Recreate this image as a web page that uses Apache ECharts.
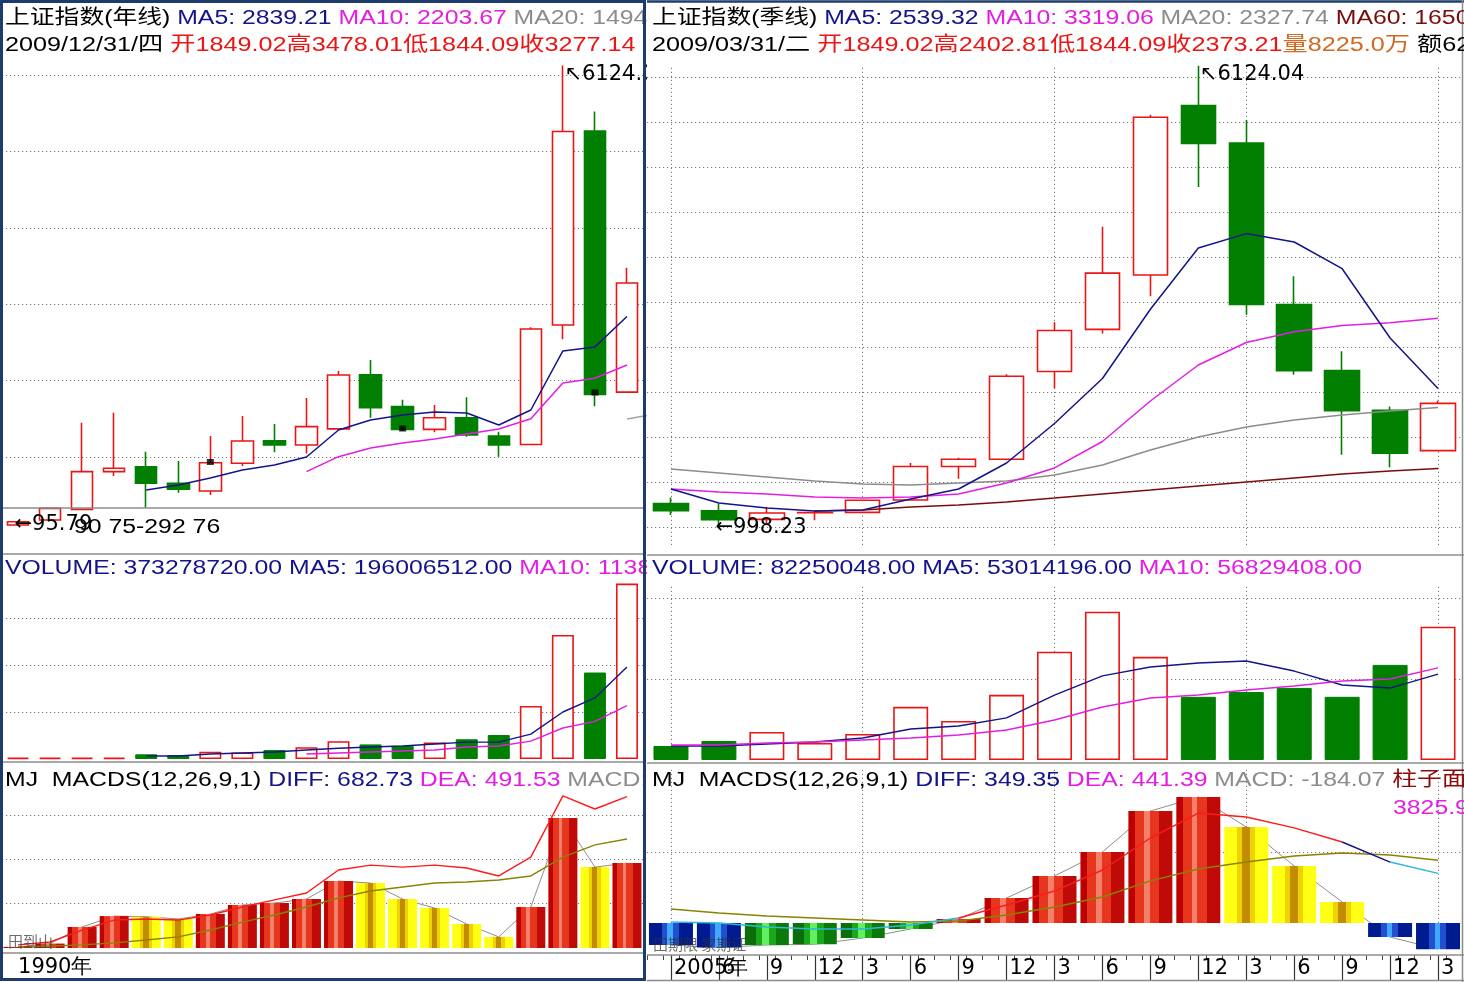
<!DOCTYPE html>
<html>
<head>
<meta charset="utf-8">
<script src="https://cdn.jsdelivr.net/npm/echarts@6.0.0/dist/echarts.min.js"></script>
<style>
html,body{margin:0;padding:0;background:#fff;}
body{width:1464px;height:982px;position:relative;overflow:hidden;}
#left{position:absolute;left:0;top:0;width:647px;height:982px;}
#right{position:absolute;left:647px;top:0;width:817px;height:982px;}
</style>
</head>
<body>
<div id="left"></div><div id="right"></div>
<script>
// ================= Annual data (left panel) =================
const years = ['1990','1991','1992','1993','1994','1995','1996','1997','1998','1999','2000','2001','2002','2003','2004','2005','2006','2007','2008','2009'];
const yearTickLabels = ['1990年','','','','','','','','','','','','','','','','','','',''];
const yearOpen  = [110,175,315,808,873,656,555,918,1213,1157,1368,2077,1659,1362,1514,1275,1163,2728,5265,1849.02];
const yearClose = [153,328,808,852,656,577,925,1209,1157,1397,2073,1646,1362,1514,1288,1157,2675,5261,1820,3277.14];
const yearLow   = [95.79,175,315,751,336,532,502,882,1061,1047,1361,1514,1339,1323,1266,1004,1161,2541,1664,1844.09];
const yearHigh  = [153,328,1449,1580,1069,948,1275,1537,1432,1773,2125,2270,1748,1682,1783,1331,2698,6124.04,5522,3478.01];
const yearMA5  = [null,null,null,null,568,633,725,830,895,1000,1353,1484,1550,1589,1576,1419,1615,2388,2441,2839.21];
const yearMA10 = [null,null,null,null,null,null,null,null,null,808,1004,1118,1183,1235,1301,1366,1500,1968,2030,2203.67];
const yearMA20 = [null,null,null,null,null,null,null,null,null,null,null,null,null,null,null,null,null,null,null,1494.5];
const markerYears = ['1996','2002','2008'];
const markerVals  = [935,1373,1844];
const yearVol     = [2.5,2.5,2.5,2.5,10,8.5,15.5,14,19,25,38,31,28,35,42,51,113,264,184,373.28];      // millions
const yearVolMA5  = [null,null,null,null,6.4,6.4,10.6,12.8,14.9,19,23,25.5,27.7,32,36,36,53,100,130,196.01];
const yearVolMA10 = [null,null,null,null,null,null,null,null,null,10.6,12.8,15,17,19,25.5,27.7,38,66,80,113.8];
const yearMacd = [5,20,95,144,141,131,153,194,203,221,302,293,221,180,108,50,185,586,365,383];
const yearDiff = [14,27,81,126,131,126,149,185,217,248,352,374,365,374,361,325,410,686,627,682.73];
const yearDea  = [5,9,14,23,36,50,81,117,149,185,226,257,275,293,298,307,325,410,465,491.53];

// ================= Quarterly data (right panel) =================
const quarters = ['2005/03','2005/06','2005/09','2005/12','2006/03','2006/06','2006/09','2006/12','2007/03','2007/06','2007/09','2007/12','2008/03','2008/06','2008/09','2008/12','2009/03'];
const qTickLabels = ['2005年','6','9','12','3','6','9','12','3','6','9','12','3','6','9','12','3'];
const qOpen  = [1261,1180,1085,1158,1163,1300,1672,1753,2728,3196,3800,5683,5265,3472,2739,2296,1849.02];
const qClose = [1181,1081,1156,1161,1298,1672,1752,2675,3184,3821,5552,5261,3472,2736,2293,1821,2373.21];
const qLow   = [1134,998.23,1031,1074,1158,1291,1535,1741,2541,3150,3563,4778,3357,2693,1802,1664,1844.09];
const qHigh  = [1328,1260,1223,1180,1306,1710,1770,2698,3274,4336,5581,6124.04,5522,3786,2952,2338,2402.81];
const qMA5  = [1422,1267,1211,1178,1189,1311,1422,1711,2150,2650,3420,4100,4260,4167,3870,3100,2539.32];
const qMA10 = [1422,1389,1367,1333,1322,1333,1367,1489,1656,1950,2400,2800,3050,3170,3240,3270,3319.06];
const qMA20 = [1644,1600,1556,1511,1478,1467,1489,1511,1578,1689,1856,2000,2111,2189,2244,2289,2327.74];
const qMA60 = [null,null,null,1178,1189,1222,1244,1278,1322,1367,1411,1456,1500,1544,1589,1622,1650.3];
const qVol     = [8.66,11.75,17.3,10.5,16.1,32.8,24.1,40.2,66.8,91.5,63.7,39,42,44.5,39,58.7,82.25]; // millions
const qVolMA5  = [8.6,8.6,9.9,11.1,13.6,19.1,21,26,40.1,51.9,57.4,59.9,61.1,54.9,46.3,44.4,53.01];
const qVolMA10 = [9.3,9.3,10.5,11.1,12.3,13.6,15.4,18.5,24.7,32.7,38.3,40.1,43.2,45.7,48.8,50,56.83];
const qMacd = [-155,-173,-155,-150,-106,-42,28,176,331,500,788,887,676,401,148,-99,-184.07];
const qDiff = [7,0,-28,-42,-42,-14,35,127,225,373,598,774,746,669,570,429,349.35];
const qDea  = [99,70,49,35,21,7,14,56,113,183,296,380,429,472,493,479,441.39];

// ================= styles =================
const FONT = '20px "Liberation Sans","Noto Sans CJK SC",sans-serif';
const NAVY='#14148a', MAG='#e21ee2', GRAY='#8c8c8c', RED='#ea1515', GREEN='#007f00',
      MAROON='#7a0c0c', ORANGE='#d06a22', OLIVE='#8a8200', CYAN='#2cb8d8', DKRED='#8b0a0a';
const DOT = [1.2, 2.8];
function stripes(list){ const cs=[]; list.forEach(s=>{cs.push({offset:s[0],color:s[2]});cs.push({offset:s[1],color:s[2]});}); return {type:'linear',x:0,y:0,x2:1,y2:0,colorStops:cs}; }
const G_RED  = stripes([[0,.15,'#bd0000'],[.15,.35,'#e6361e'],[.35,.48,'#f47f6a'],[.48,.7,'#e6361e'],[.7,1,'#c00a08']]);
const G_YEL  = stripes([[0,.3,'#ffff14'],[.3,.4,'#f0d200'],[.4,.58,'#c28c00'],[.58,.7,'#f0d200'],[.7,1,'#ffff14']]);
const G_BLUE = stripes([[0,.3,'#001a90'],[.3,.42,'#2050d0'],[.42,.55,'#40a8ff'],[.55,.68,'#2050d0'],[.68,1,'#001a90']]);
const G_GRN  = stripes([[0,.25,'#0b6e0b'],[.25,.4,'#1aa81a'],[.4,.55,'#62f062'],[.55,.7,'#1aa81a'],[.7,1,'#0b7a0b']]);
function macdColor(arr,i){ const v=arr[i], p=i>0?arr[i-1]:0; if(v>=0) return v>=p?G_RED:G_YEL; return v<=p?G_BLUE:G_GRN; }
function ohlc(o,c,l,h){ return o.map((v,i)=>[v,c[i],l[i],h[i]]); }
function volItems(vol,o,c){ return vol.map((v,i)=> c[i]>=o[i] ? {value:v,itemStyle:{color:'#fff',borderColor:RED,borderWidth:1.6}} : {value:v,itemStyle:{color:GREEN,borderColor:GREEN,borderWidth:1}}); }
function txt(x,y,segs,sx){ const rich={}; let t=''; segs.forEach((s,i)=>{rich['s'+i]={fill:s[1],font:FONT}; t+='{s'+i+'|'+s[0]+'}';}); return {type:'text',x:x,y:y,scaleX:sx||1.24,z:100,silent:true,style:{text:t,rich:rich,font:FONT,fill:'#000',verticalAlign:'middle',align:'left'}}; }
function hline(x1,x2,y,c,w){ return {type:'line',z:90,silent:true,shape:{x1:x1,y1:y,x2:x2,y2:y},style:{stroke:c||'#8c8c8c',lineWidth:w||1.5}}; }
function valAxis(grid,min,max,interval,split){ return {type:'value',gridIndex:grid,min:min,max:max,interval:interval,axisLine:{show:false},axisTick:{show:false},axisLabel:{show:false},
  splitLine:{show:!!split,showMinLine:false,showMaxLine:false,lineStyle:{color:'#7a7a7a',type:DOT,width:1}}}; }
function line(xi,yi,data,color,w,z){ return {type:'line',xAxisIndex:xi,yAxisIndex:yi,data:data,showSymbol:false,symbol:'none',clip:false,z:z||3,lineStyle:{color:color,width:w||1.5}}; }
const candleStyle = {color:'#ffffff',color0:GREEN,borderColor:RED,borderColor0:GREEN,borderWidth:1.6};
const mpLabel = {show:true,color:'#000',fontFamily:'DejaVu Sans',fontSize:21,align:'left',verticalAlign:'top'};

// ================= LEFT CHART =================
(function(){
  const chart = echarts.init(document.getElementById('left'), null, {renderer:'canvas'});
  const iMax = yearHigh.indexOf(Math.max(...yearHigh)), iMin = yearLow.indexOf(Math.min(...yearLow));
  const catAxis = g => ({type:'category',gridIndex:g,data:years,boundaryGap:true,show:false});
  const option = {
    animation:false, backgroundColor:'#fff',
    grid:[
      {left:2,top:60,width:641,height:473.4},
      {left:2,top:580,width:641,height:179},
      {left:2,top:790,width:641,height:158},
      {left:2,top:953,width:641,height:26}
    ],
    xAxis:[catAxis(0),catAxis(1),catAxis(2),
      {type:'category',gridIndex:3,data:years,boundaryGap:true,position:'bottom',
       axisLine:{show:false},axisTick:{show:false},
       axisLabel:{show:true,inside:true,interval:0,align:'left',verticalAlign:'bottom',margin:1,color:'#000',fontFamily:'DejaVu Sans',fontSize:21,
         formatter:(v,i)=>yearTickLabels[i]}}],
    yAxis:[valAxis(0,0,6196,1000,true),valAxis(1,0,380.9,100,true),valAxis(2,0,712.8,200,true),{type:'value',gridIndex:3,show:false}],
    series:[
      {type:'candlestick',xAxisIndex:0,yAxisIndex:0,data:ohlc(yearOpen,yearClose,yearLow,yearHigh),barWidth:22,itemStyle:candleStyle,z:2,
       markPoint:{symbol:'circle',symbolSize:1,itemStyle:{color:'rgba(0,0,0,0)'},label:mpLabel,
         data:[{coord:[years[iMax],yearHigh[iMax]],label:{...mpLabel,formatter:'↖'+yearHigh[iMax],position:[2,-1]}},
               {coord:[years[iMin],yearLow[iMin]],label:{...mpLabel,formatter:'←'+yearLow[iMin],position:[-3,-12]}}]}},
      line(0,0,yearMA5,NAVY),
      line(0,0,yearMA10,MAG),
      {type:'scatter',xAxisIndex:0,yAxisIndex:0,data:years.map((y,i)=>yearMA20[i]),symbol:'rect',symbolSize:[20,1.6],symbolOffset:[10,-2],symbolRotate:10,itemStyle:{color:GRAY},z:3},
      {type:'scatter',xAxisIndex:0,yAxisIndex:0,data:markerYears.map((y,i)=>[y,markerVals[i]]),symbol:'rect',symbolSize:[7,6],itemStyle:{color:'#000'},z:4},
      {type:'bar',xAxisIndex:1,yAxisIndex:1,data:volItems(yearVol,yearOpen,yearClose),barWidth:22,z:2},
      line(1,1,yearVolMA5,NAVY,1.4),
      line(1,1,yearVolMA10,MAG,1.4),
      line(2,2,yearMacd,'#8f8f8f',1,1),
      {type:'bar',xAxisIndex:2,yAxisIndex:2,data:yearMacd.map((v,i)=>({value:v,itemStyle:{color:macdColor(yearMacd,i)}})),barWidth:29,z:2},
      line(2,2,yearDiff,'#ff1a1a',1.4),
      line(2,2,yearDea,OLIVE,1.4)
    ],
    graphic:{elements:[
      txt(5,18,[['上证指数(年线) ','#000'],['MA5: 2839.21 ',NAVY],['MA10: 2203.67 ',MAG],['MA20: 1494.52',GRAY]]),
      txt(5,45,[['2009/12/31/四 ','#000'],['开1849.02高3478.01低1844.09收3277.14',RED]],1.26),
      txt(74,527,[['90 75-292 76','#000']]),
      txt(5,568,[['VOLUME: 373278720.00 ',NAVY],['MA5: 196006512.00 ',NAVY],['MA10: 113814800.00',MAG]]),
      txt(5,780,[['MJ  MACDS(12,26,9,1) ','#000'],['DIFF: 682.73 ',NAVY],['DEA: 491.53 ',MAG],['MACD: 191.20',GRAY]]),
      {type:'text',x:8,y:941,z:100,silent:true,style:{text:'田到山',font:'15px "Noto Sans CJK SC"',fill:'rgba(60,60,60,0.75)',verticalAlign:'middle'}},
      hline(3,643,508,'#8c8c8c',1.5),
      hline(3,643,554,'#8c8c8c',1.5),
      hline(3,643,762,'#8c8c8c',1.5),
      hline(3,643,953,'#8c8c8c',1.5),
      {type:'rect',z:110,silent:true,shape:{x:1.5,y:1.5,width:643,height:978},style:{fill:'none',stroke:'#1d3c6c',lineWidth:3}}
    ]}
  };
  chart.setOption(option);
})();

// ================= RIGHT CHART =================
(function(){
  const OX = 647;
  const chart = echarts.init(document.getElementById('right'), null, {renderer:'canvas'});
  const iMax = qHigh.indexOf(Math.max(...qHigh)), iMin = qLow.indexOf(Math.min(...qLow));
  const vTicks = (g,len,off) => ({type:'category',gridIndex:g,data:quarters,boundaryGap:true,position:'bottom',offset:off||0,
     axisLine:{show:false},axisLabel:{show:false},splitLine:{show:false},
     axisTick:{show:true,inside:true,alignWithLabel:true,length:len,interval:(i)=>i%4===0,lineStyle:{color:'#7a7a7a',type:DOT,width:1}}});
  const option = {
    animation:false, backgroundColor:'#fff',
    grid:[
      {left:-2,top:60,width:817,height:512},
      {left:-2,top:580,width:817,height:180},
      {left:-2,top:790,width:817,height:160},
      {left:-2,top:955,width:817,height:25},
      {left:-2,top:930,width:817,height:25}
    ],
    xAxis:[vTicks(0,480,-27),vTicks(1,175),vTicks(2,155),
      {type:'category',gridIndex:3,data:quarters,boundaryGap:true,position:'bottom',
       axisLine:{show:false},
       axisTick:{show:true,inside:true,alignWithLabel:true,length:25,interval:0,lineStyle:{color:'#333',width:1.2}},
       axisLabel:{show:true,inside:true,interval:0,align:'left',verticalAlign:'bottom',margin:1,padding:[0,0,0,3],color:'#000',fontFamily:'DejaVu Sans',fontSize:21,
         formatter:(v,i)=>qTickLabels[i]}},
      {type:'value',gridIndex:4,min:0,max:51,interval:1,position:'bottom',axisLine:{show:false},axisLabel:{show:false},splitLine:{show:false},
       axisTick:{show:true,inside:false,length:5,lineStyle:{color:'#444',width:1}}}],
    yAxis:[valAxis(0,500,6188.9,500,true),valAxis(1,0,111.1,50,true),
      {type:'value',gridIndex:2,min:-190,max:936,axisLine:{show:false},axisTick:{show:false},axisLabel:{show:false},splitLine:{show:false}},
      valAxis(2,0,1126,690,true),
      {type:'value',gridIndex:3,show:false},
      {type:'value',gridIndex:4,show:false}],
    series:[
      {type:'candlestick',xAxisIndex:0,yAxisIndex:0,data:ohlc(qOpen,qClose,qLow,qHigh),barWidth:35,itemStyle:candleStyle,z:2,
       markPoint:{symbol:'circle',symbolSize:1,itemStyle:{color:'rgba(0,0,0,0)'},label:mpLabel,
         data:[{coord:[quarters[iMax],qHigh[iMax]],label:{...mpLabel,formatter:'↖'+qHigh[iMax],position:[2,-1]}},
               {coord:[quarters[iMin],qLow[iMin]],label:{...mpLabel,formatter:'←'+qLow[iMin],position:[-3,-10]}}]}},
      line(0,0,qMA60,MAROON),
      line(0,0,qMA20,GRAY),
      line(0,0,qMA10,MAG),
      line(0,0,qMA5,NAVY),
      {type:'bar',xAxisIndex:1,yAxisIndex:1,data:volItems(qVol,qOpen,qClose),barWidth:35,z:2},
      line(1,1,qVolMA5,NAVY,1.4),
      line(1,1,qVolMA10,MAG,1.4),
      line(2,2,qMacd,'#8f8f8f',1,1),
      {type:'bar',xAxisIndex:2,yAxisIndex:2,data:qMacd.map((v,i)=>({value:v,itemStyle:{color:macdColor(qMacd,i)}})),barWidth:44,z:2},
      line(2,2,qDea,OLIVE,1.4),
      line(2,2,qDiff.map((v,i)=>i<=6?v:null),CYAN,1.4),
      line(2,2,qDiff.map((v,i)=>(i>=6&&i<=14)?v:null),'#ff1a1a',1.4),
      line(2,2,qDiff.map((v,i)=>(i>=14&&i<=15)?v:null),NAVY,1.4),
      line(2,2,qDiff.map((v,i)=>i>=15?v:null),CYAN,1.4)
    ],
    graphic:{elements:[
      txt(652-OX,18,[['上证指数(季线) ','#000'],['MA5: 2539.32 ',NAVY],['MA10: 3319.06 ',MAG],['MA20: 2327.74 ',GRAY],['MA60: 1650.30',MAROON]]),
      txt(652-OX,45,[['2009/03/31/二 ','#000'],['开1849.02高2402.81低1844.09收2373.21',RED],['量8225.0万 ',ORANGE],['额6231.5亿','#000']],1.26),
      txt(652-OX,568,[['VOLUME: 82250048.00 ',NAVY],['MA5: 53014196.00 ',NAVY],['MA10: 56829408.00',MAG]]),
      txt(652-OX,780,[['MJ  MACDS(12,26,9,1) ','#000'],['DIFF: 349.35 ',NAVY],['DEA: 441.39 ',MAG],['MACD: -184.07 ',GRAY],['柱子面积:',DKRED]]),
      txt(1393-OX,808,[['3825.9',MAG]]),
      {type:'text',x:653-OX,y:944,z:100,silent:true,style:{text:'田期限 家期证',font:'15px "Noto Sans CJK SC"',fill:'rgba(50,50,50,0.7)',verticalAlign:'middle'}},
      hline(0,817,555,'#8c8c8c',1.5),
      hline(0,817,763,'#8c8c8c',1.5),
      hline(0,817,955,'#8c8c8c',1.5),
      hline(0,817,1.5,'#1d3c6c',2.5),
      hline(0,817,980.5,'#8c8c8c',1.5),
      {type:'line',z:90,silent:true,shape:{x1:815.5,y1:0,x2:815.5,y2:982},style:{stroke:'#8c8c8c',lineWidth:1.5}}
    ]}
  };
  chart.setOption(option);
})();
</script>
</body>
</html>
